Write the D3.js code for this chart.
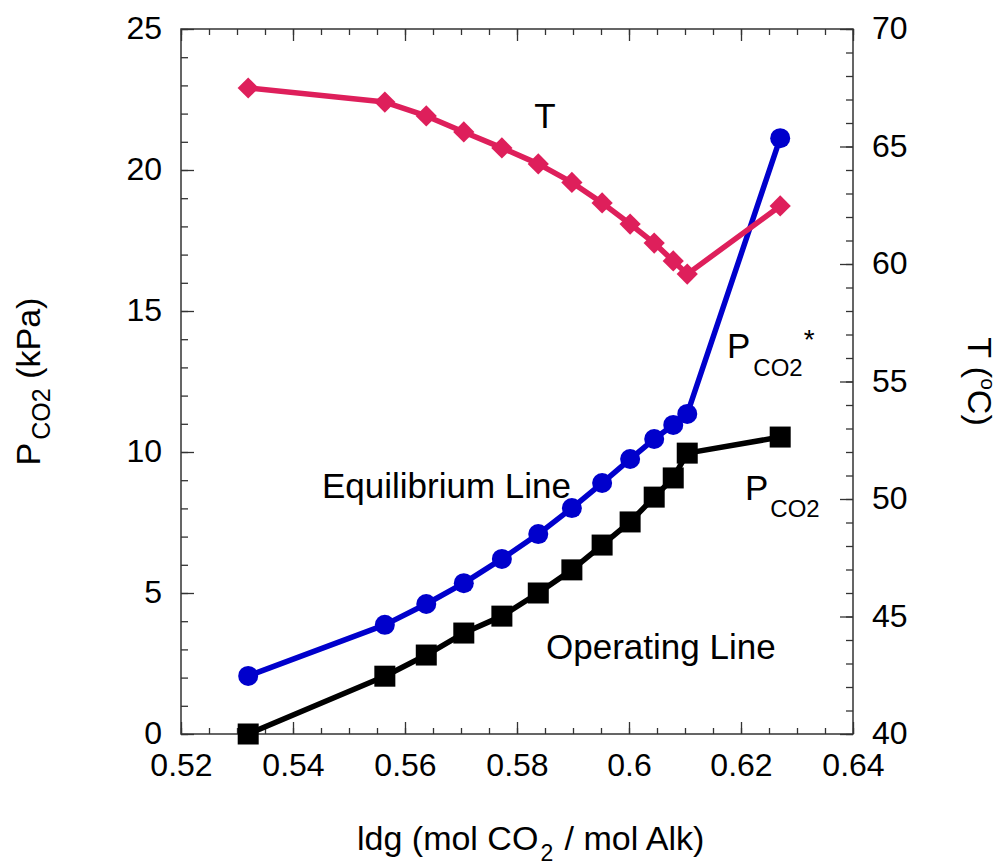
<!DOCTYPE html>
<html>
<head>
<meta charset="utf-8">
<script src="https://cdn.jsdelivr.net/npm/d3@7"></script>
<style>
  html, body { margin: 0; padding: 0; background: #fff; }
  svg text { font-family: "Liberation Sans", Arial, Helvetica, sans-serif; fill: #000; }
</style>
</head>
<body>
<svg id="chart" width="999" height="867"></svg>
<script>
// ---- data ----
const ldg      = [0.532, 0.5564, 0.5638, 0.5705, 0.5773, 0.5838, 0.5898, 0.5952, 0.6002, 0.6045, 0.6079, 0.6104, 0.627];
const pco2Star = [2.06, 3.87, 4.61, 5.35, 6.21, 7.09, 8.01, 8.90, 9.75, 10.46, 10.96, 11.35, 21.13];
const pco2     = [0.0, 2.05, 2.80, 3.58, 4.18, 5.00, 5.82, 6.70, 7.52, 8.40, 9.08, 9.96, 10.53];
const tempC    = [67.49, 66.89, 66.30, 65.62, 64.94, 64.26, 63.47, 62.60, 61.70, 60.89, 60.13, 59.57, 62.47];

const xTicks = [0.52, 0.54, 0.56, 0.58, 0.60, 0.62, 0.64];
const xTickLabels = ["0.52", "0.54", "0.56", "0.58", "0.6", "0.62", "0.64"];
const yLeftTicks = [0, 5, 10, 15, 20, 25];
const yRightTicks = [40, 45, 50, 55, 60, 65, 70];

// ---- layout ----
const svg = d3.select("#chart");
const L = 181, R = 853, T = 29, B = 734;
const FONT = 32;

const x = d3.scaleLinear().domain([0.52, 0.64]).range([L, R]);
const yL = d3.scaleLinear().domain([0, 25]).range([B, T]);
const yR = d3.scaleLinear().domain([40, 70]).range([B, T]);

const axisColor = "#333";
const minorX = d3.range(0.52, 0.64001, 0.005);
const minorYL = d3.range(0, 25.001, 1);
const minorYR = d3.range(40, 70.001, 1);

function tickGroup(axis, tr) {
  const g = svg.append("g").attr("transform", tr).call(axis);
  g.selectAll("text").remove();
  g.select(".domain").remove();
  g.selectAll("line").attr("stroke", axisColor).attr("stroke-width", 1.3);
  return g;
}
// bottom ticks (inward)
tickGroup(d3.axisBottom(x).tickValues(minorX).tickSize(-6), `translate(0,${B})`);
tickGroup(d3.axisBottom(x).tickValues(xTicks).tickSize(-12), `translate(0,${B})`);
// top ticks
tickGroup(d3.axisTop(x).tickValues(minorX).tickSize(-6), `translate(0,${T})`);
tickGroup(d3.axisTop(x).tickValues(xTicks).tickSize(-12), `translate(0,${T})`);
// left ticks
tickGroup(d3.axisLeft(yL).tickValues(minorYL).tickSize(-7), `translate(${L},0)`);
tickGroup(d3.axisLeft(yL).tickValues(yLeftTicks).tickSize(-13), `translate(${L},0)`);
// right ticks
tickGroup(d3.axisRight(yR).tickValues(minorYR).tickSize(-7), `translate(${R},0)`);
tickGroup(d3.axisRight(yR).tickValues(yRightTicks).tickSize(-13), `translate(${R},0)`);

// frame
svg.append("rect").attr("x", L).attr("y", T).attr("width", R - L).attr("height", B - T)
  .attr("fill", "none").attr("stroke", axisColor).attr("stroke-width", 1.5);

// tick labels
function labelGroup(axis, tr) {
  const g = svg.append("g").attr("transform", tr).call(axis);
  g.select(".domain").remove();
  g.selectAll("line").remove();
  g.selectAll("text").attr("font-size", FONT).attr("font-family", null);
  return g;
}
labelGroup(d3.axisBottom(x).tickValues(xTicks).tickSize(0).tickPadding(19)
  .tickFormat((d, i) => xTickLabels[i]), `translate(0,${B})`);
const gl = labelGroup(d3.axisLeft(yL).tickValues(yLeftTicks).tickSize(0).tickPadding(19)
  .tickFormat(d3.format("d")), `translate(${L},0)`);
gl.selectAll("text").attr("dy", "0.3em");
const gr = labelGroup(d3.axisRight(yR).tickValues(yRightTicks).tickSize(0).tickPadding(19)
  .tickFormat(d3.format("d")), `translate(${R},0)`);
gr.selectAll("text").attr("dy", "0.3em");

// ---- series ----
const idx = d3.range(ldg.length);
const lineGen = (arr, ys) => d3.line().x(i => x(ldg[i])).y(i => ys(arr[i]))(idx);

const blue = "#0000CC", pink = "#DE1F5B", black = "#000";
const LW = 5.5;

// equilibrium (P_CO2*)
svg.append("path").attr("d", lineGen(pco2Star, yL)).attr("fill", "none")
  .attr("stroke", blue).attr("stroke-width", LW).attr("stroke-linejoin", "round");
svg.append("g").selectAll("circle").data(idx).join("circle")
  .attr("cx", i => x(ldg[i])).attr("cy", i => yL(pco2Star[i])).attr("r", 10).attr("fill", blue);

// operating (P_CO2)
svg.append("path").attr("d", lineGen(pco2, yL)).attr("fill", "none")
  .attr("stroke", black).attr("stroke-width", LW).attr("stroke-linejoin", "round");
svg.append("g").selectAll("rect").data(idx).join("rect")
  .attr("x", i => x(ldg[i]) - 10.5).attr("y", i => yL(pco2[i]) - 10.5)
  .attr("width", 21).attr("height", 21).attr("fill", black);

// temperature
svg.append("path").attr("d", lineGen(tempC, yR)).attr("fill", "none")
  .attr("stroke", pink).attr("stroke-width", LW).attr("stroke-linejoin", "round");
svg.append("g").selectAll("rect").data(idx).join("rect")
  .attr("x", -7.5).attr("y", -7.5).attr("width", 15).attr("height", 15)
  .attr("transform", i => `translate(${x(ldg[i])},${yR(tempC[i])}) rotate(45)`)
  .attr("fill", pink);

// ---- annotations ----
const AF = 35;
svg.append("text").attr("x", 545).attr("y", 128).attr("text-anchor", "middle")
  .attr("font-size", AF).text("T");

const ps = svg.append("text").attr("x", 727).attr("y", 358).attr("font-size", AF);
ps.append("tspan").text("P");
ps.append("tspan").attr("font-size", 24).attr("dx", 3).attr("dy", 18).text("CO2");
ps.append("tspan").attr("font-size", 28).attr("dx", 1).attr("dy", -27).text("*");

const pp = svg.append("text").attr("x", 745).attr("y", 500).attr("font-size", AF);
pp.append("tspan").text("P");
pp.append("tspan").attr("font-size", 24).attr("dx", 2).attr("dy", 17).text("CO2");

svg.append("text").attr("x", 322).attr("y", 498).attr("font-size", AF).text("Equilibrium Line");
svg.append("text").attr("x", 546).attr("y", 659).attr("font-size", AF).text("Operating Line");

// ---- axis titles ----
const TF = 34;
const xt = svg.append("text").attr("x", 357).attr("y", 850).attr("font-size", TF);
xt.append("tspan").text("ldg (mol CO");
xt.append("tspan").attr("font-size", 23).attr("dx", 2).attr("dy", 11).text("2");
xt.append("tspan").attr("dx", 2).attr("dy", -11).text(" / mol Alk)");

const yt = svg.append("text").attr("transform", `translate(40,${(T + B) / 2}) rotate(-90)`)
  .attr("text-anchor", "middle").attr("font-size", TF);
yt.append("tspan").text("P");
yt.append("tspan").attr("font-size", 25).attr("dx", 3).attr("dy", 10).text("CO2");
yt.append("tspan").attr("dy", -10).text(" (kPa)");

const rt = svg.append("text").attr("transform", `translate(968,${(T + B) / 2}) rotate(90)`)
  .attr("text-anchor", "middle").attr("font-size", TF);
rt.append("tspan").text("T (");
rt.append("tspan").attr("font-size", 21).attr("dy", -13).text("o");
rt.append("tspan").attr("dy", 13).text("C)");
</script>
</body>
</html>
